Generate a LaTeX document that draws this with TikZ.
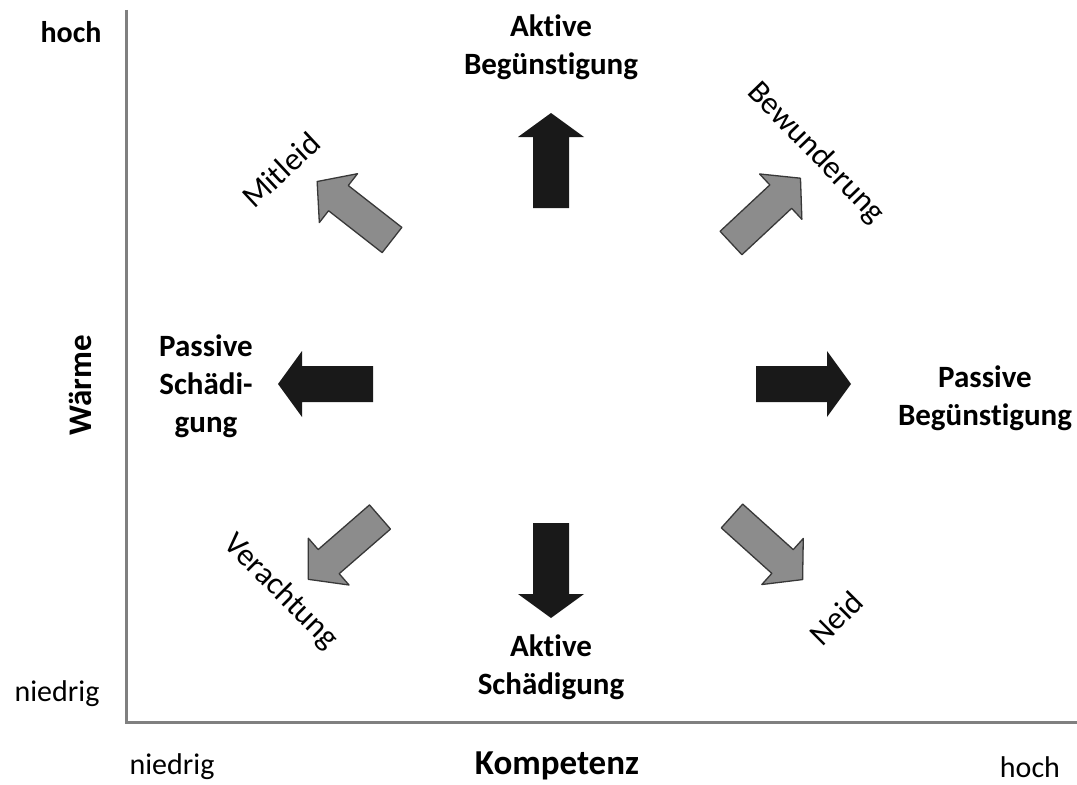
\documentclass[tikz,border=0pt]{standalone}
\usepackage{fontspec}
\setmainfont{Carlito}[Ligatures=NoCommon]
\tikzset{
  big/.style={font=\fontsize{31bp}{38bp}\selectfont\bfseries, align=center, inner sep=0pt},
  diag/.style={font=\fontsize{32bp}{36bp}\selectfont, inner sep=0pt},
  axlab/.style={font=\fontsize{30bp}{36bp}\selectfont, inner sep=0pt},
  axisline/.style={draw=black!50, line width=3bp},
  blackarrow/.pic={\path[fill=black!90] (0,-18) -- (71,-18) -- (71,-33) -- (95,0) -- (71,33) -- (71,18) -- (0,18) -- cycle;},
  grayarrow/.pic={\path[fill=black!45, draw=black!78, line width=1.3bp, line join=round] (0,-16) -- (68,-16) -- (68,-31) -- (95,0) -- (68,31) -- (68,16) -- (0,16) -- cycle;}
}
\begin{document}
\begin{tikzpicture}[x=1bp,y=-1bp]
\useasboundingbox (0,0) rectangle (1077,785);
\fill[white] (0,0) rectangle (1077,785);
% axes
\coordinate (o) at (126,722);
\coordinate (ytop) at (126,10);
\coordinate (xend) at (1077,722);
\draw[axisline] (ytop) -- (o) -- (xend);
% axis labels
\node[axlab, font=\fontsize{30bp}{36bp}\selectfont\bfseries] (yh) at (71,32) {hoch};
\node[axlab] (yl) at (57,694) {niedrig};
\node[axlab] (xl) at (172,767) {niedrig};
\node[axlab] (xh) at (1030,767) {hoch};
\node[axlab, font=\fontsize{35bp}{40bp}\selectfont\bfseries] (komp) at (557,766) {Kompetenz};
\node[big, font=\fontsize{33bp}{40bp}\selectfont\bfseries, rotate=90] (waerme) at (80,385) {Wärme};
% behaviour labels
\node[big] (ab) at (551,47) {Aktive\\Begünstigung};
\node[big] (ps) at (206,386) {Passive\\Schädi-\\gung};
\node[big] (pb) at (985,398) {Passive\\Begünstigung};
\node[big] (as) at (551,667) {Aktive\\Schädigung};
% emotion labels
\node[diag, rotate=43] (mit) at (281,170) {Mitleid};
\node[diag, rotate=-46] (bew) at (816,153) {Bewunderung};
\node[diag, rotate=-45] (ver) at (281,592) {Verachtung};
\node[diag, rotate=45] (neid) at (836,618) {Neid};
% black arrows
\pic (up) [rotate=90] at (551,208) {blackarrow};
\pic (down) [rotate=-90] at (551,523) {blackarrow};
\pic (left) [rotate=180] at (373,384) {blackarrow};
\pic (right) at (756,384) {blackarrow};
% gray arrows
\pic (garr1) [rotate=142] at (392,240) {grayarrow};
\pic (garr2) [rotate=43] at (731,243) {grayarrow};
\pic (garr3) [rotate=-139] at (380,517) {grayarrow};
\pic (garr4) [rotate=-42] at (732,516) {grayarrow};
\end{tikzpicture}
\end{document}
